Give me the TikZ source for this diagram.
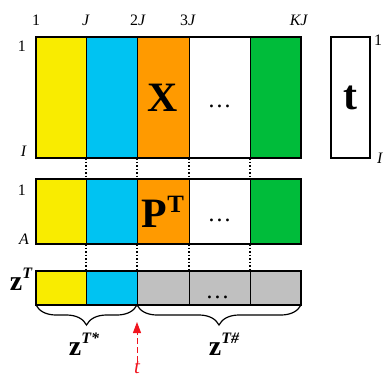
\documentclass[tikz,border=0pt]{standalone}
\usepackage{fontspec}
\setmainfont{Liberation Serif}
\usetikzlibrary{arrows.meta, decorations.pathreplacing, calc}
\definecolor{blocyellow}{HTML}{F9EC00}
\definecolor{bloccyan}{HTML}{00C3F2}
\definecolor{blocorange}{HTML}{FF9A00}
\definecolor{blocgreen}{HTML}{00BC3A}
\definecolor{blocgray}{HTML}{C0C0C0}
\definecolor{markred}{HTML}{F0141E}

\begin{document}
\begin{tikzpicture}[
    x=1bp, y=-1bp,
    cell/.style={rectangle, draw=black, line width=1pt, inner sep=0pt, outer sep=0pt, anchor=north west},
    rim/.style={draw=black, line width=1.6pt},
    lab/.style={font=\fontsize{16}{18}\selectfont, inner sep=0pt},
    big/.style={font=\fontsize{42}{44}\selectfont\bfseries, inner sep=0pt},
    dots/.style={font=\fontsize{24}{26}\selectfont, inner sep=0pt},
    zlab/.style={font=\fontsize{28}{30}\selectfont\bfseries, inner sep=0pt, anchor=base},
    link/.style={dash pattern=on 1.5bp off 2bp, line width=1.2pt},
    brc/.style={decorate, decoration={brace, mirror, amplitude=20bp}, line width=1.2pt},
    tarr/.style={-{Triangle[length=11bp, width=8bp]}, dash pattern=on 6bp off 3bp, line width=1pt, markred}
]
    \useasboundingbox (0,0) rectangle (384,379);

    % blocks of X, P^T and z^T, column by column
    \foreach \n/\l/\r/\c/\d in {1/36/86/blocyellow/blocyellow, 2/86/137/bloccyan/bloccyan,
        3/137/189/blocorange/blocgray, 4/189/250/white/blocgray, 5/250/301/blocgreen/blocgray} {
        \node[cell, fill=\c, minimum width={(\r-\l)*1bp}, minimum height=121bp] (x\n) at (\l,37) {};
        \node[cell, fill=\c, minimum width={(\r-\l)*1bp}, minimum height=65bp] (p\n) at (\l,179) {};
        \node[cell, fill=\d, minimum width={(\r-\l)*1bp}, minimum height=34bp] (z\n) at (\l,271) {};
    }
    \draw[rim] (x1.north west) rectangle (x5.south east);
    \draw[rim] (p1.north west) rectangle (p5.south east);
    \draw[rim] (z1.north west) rectangle (z5.south east);

    % vector t
    \node[cell, line width=1.2pt, minimum width=39bp, minimum height=121bp] (tv) at (331,37) {};

    % block texts
    \node[big] (xl) at (x3) {X};
    \node[big] (pl) at (p3) {P\raisebox{15bp}{\fontsize{25}{25}\selectfont T}};
    \node[big] (tl) at (tv) {t};
    \node[dots] (xd) at ($(x4)+(0,9)$) {\dots};
    \node[dots] (pd) at ($(p4)+(0,9)$) {\dots};
    \node[dots] (zd) at ($(z4)+(-2,9)$) {\dots};

    % column indices
    \foreach \t/\x [count=\i] in {1/36, \textit{J}/86, 2\textit{J}/138, 3\textit{J}/188, \textit{KJ}/299}
        \node[lab, anchor=base] (col\i) at (\x,25) {\t};

    % row indices
    \node[lab, anchor=base east] (rx1) at (26,51) {1};
    \node[lab, anchor=base east] (rxi) at (27,156) {\textit{I}};
    \node[lab, anchor=base east] (rp1) at (26,195) {1};
    \node[lab, anchor=base east] (rpa) at (29,244) {\textit{A}};
    \node[lab, anchor=base west] (rt1) at (374,45) {1};
    \node[lab, anchor=base west] (rti) at (377,163) {\textit{I}};
    \node[zlab] (zt) at (21,290) {z\raisebox{12bp}{\fontsize{16}{16}\selectfont\itshape T}};

    % links between the blocks
    \foreach \i in {1,...,4} {
        \draw[link] (x\i.south east) -- (p\i.north east);
        \draw[link] (p\i.south east) -- (z\i.north east);
    }

    % split of z^T
    \draw[brc] (z1.south west) -- (z2.south east);
    \draw[brc] (z3.south west) -- (z5.south east);
    \node[zlab] (zs) at (84,355) {z\raisebox{12bp}{\fontsize{16}{16}\selectfont\itshape T*}};
    \node[zlab] (zh) at (224,355) {z\raisebox{12bp}{\fontsize{16}{16}\selectfont\itshape T\#}};

    % cut point t
    \coordinate (tip) at (137,322);
    \node[font=\fontsize{21}{24}\selectfont\itshape, text=markred, anchor=north, inner sep=0pt] (tt) at (137,362) {t};
    \draw[tarr] (tt) -- (tip);
\end{tikzpicture}
\end{document}
